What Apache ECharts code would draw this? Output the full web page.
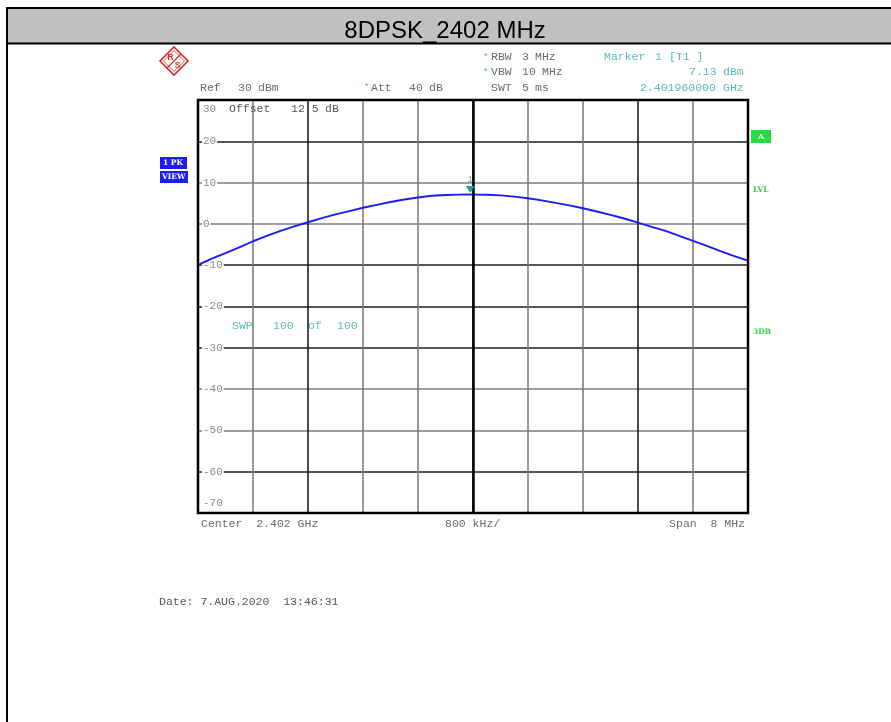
<!DOCTYPE html>
<html>
<head>
<meta charset="utf-8">
<script src="https://cdn.jsdelivr.net/npm/echarts@6/dist/echarts.min.js"></script>
<style>html,body{margin:0;padding:0;background:#fff}#c{width:891px;height:722px}</style>
</head>
<body>
<div id="c"></div>
<script>
// ---- data (frequency offset from centre, MHz; level, dBm) ----
var freqOffsets = [-4.0,-3.8,-3.6,-3.4,-3.2,-3.0,-2.8,-2.6,-2.4,-2.2,-2.0,-1.8,-1.6,-1.4,-1.2,-1.0,-0.8,-0.6,-0.4,-0.2,-0.04,0.0,0.2,0.4,0.6,0.8,1.0,1.2,1.4,1.6,1.8,2.0,2.2,2.4,2.6,2.8,3.0,3.2,3.4,3.6,3.8,4.0];
var levels = [-9.9,-8.4,-7.1,-5.7,-4.2,-2.9,-1.7,-0.6,0.4,1.4,2.3,3.1,3.9,4.6,5.3,5.9,6.4,6.8,7.0,7.1,7.13,7.1,7.05,6.9,6.6,6.2,5.7,5.1,4.5,3.8,3.0,2.2,1.3,0.3,-0.7,-1.7,-2.9,-4.1,-5.3,-6.6,-7.8,-8.9];
var markerFreq = [-0.04];
var markerLevel = [7.13];
var yTicks = [-70,-60,-50,-40,-30,-20,-10,0,10,20,30];
var xTicks = [-4,-3.2,-2.4,-1.6,-0.8,0,0.8,1.6,2.4,3.2,4];
var titleText = '8DPSK_2402 MHz';

var pts = freqOffsets.map(function(f,i){return [f, levels[i]];});
var MONO = "'Liberation Mono', 'DejaVu Sans Mono', monospace";
var FS = 11.5;
var GRAY = '#6a6a6a', TEAL = '#5cbaba', GREEN = '#2ad14a';

function t(x,y,s,color,extra){
  var st = {text:s, x:x, y:y, fill:color||GRAY, font: FS+'px '+MONO, textVerticalAlign:'middle', textAlign:'left'};
  if(extra){for(var k in extra) st[k]=extra[k];}
  return {type:'text', style:st, z:50};
}

var graphics = [
  // header
  {type:'rect', shape:{x:6,y:8,width:885,height:35}, style:{fill:'#c0c0c0'}, z:1},
  {type:'line', shape:{x1:6,y1:8,x2:891,y2:8}, style:{stroke:'#000',lineWidth:2}, z:2},
  {type:'line', shape:{x1:6,y1:43.5,x2:891,y2:43.5}, style:{stroke:'#000',lineWidth:2}, z:2},
  {type:'line', shape:{x1:7,y1:7,x2:7,y2:722}, style:{stroke:'#000',lineWidth:2}, z:2},
  {type:'text', style:{text:titleText, x:445, y:31, textAlign:'center', textVerticalAlign:'middle', font:"24px 'Liberation Sans', Arial, sans-serif", fill:'#000'}, z:3},
  // R&S logo
  {type:'group', x:174, y:61, z:5, children:[
    {type:'polygon', shape:{points:[[0,-14],[14,0],[0,14],[-14,0]]}, style:{fill:'none', stroke:'#d42a2a', lineWidth:1.6}},
    {type:'polygon', shape:{points:[[0,-10.5],[10.5,0],[0,10.5],[-10.5,0]]}, style:{fill:'none', stroke:'#d42a2a', lineWidth:0.8}},
    {type:'line', shape:{x1:-7,y1:7,x2:7,y2:-7}, style:{stroke:'#d42a2a', lineWidth:1.2}},
    {type:'text', style:{text:'R', x:-3.5, y:-3.5, textAlign:'center', textVerticalAlign:'middle', font:"bold 8.5px 'Liberation Sans', sans-serif", fill:'#d42a2a'}},
    {type:'text', style:{text:'S', x:3.5, y:4.5, textAlign:'center', textVerticalAlign:'middle', font:"bold 8.5px 'Liberation Sans', sans-serif", fill:'#d42a2a'}}
  ]},
  // top info rows
  t(483,57.5,'*',GREEN,{font:'9px '+MONO}), t(491,57,'RBW'), t(522,57,'3'), t(535,57,'MHz'),
  t(604,57,'Marker',TEAL), t(655,57,'1',TEAL), t(669,57,'[T1 ]',TEAL),
  t(483,72.5,'*',GREEN,{font:'9px '+MONO}), t(491,72,'VBW'), t(522,72,'10'), t(542,72,'MHz'),
  t(689,72,'7.13',TEAL), t(723,72,'dBm',TEAL),
  t(200,87.5,'Ref'), t(238,87.5,'30'), t(258,87.5,'dBm'),
  t(364,88,'*',GREEN,{font:'9px '+MONO}), t(371,87.5,'Att'), t(409,87.5,'40'), t(429,87.5,'dB'),
  t(491,87.5,'SWT'), t(522,87.5,'5'), t(535,87.5,'ms'),
  t(640,87.5,'2.401960000',TEAL), t(723,87.5,'GHz',TEAL),
  // inside plot
  t(229,108.5,'Offset','#555'), t(291,108.5,'12.5','#555'), t(325,108.5,'dB','#555'),
  t(232,325.5,'SWP',TEAL), t(273,325.5,'100',TEAL), t(308,325.5,'of',TEAL), t(337,325.5,'100',TEAL),
  // bottom
  t(201,524,'Center  2.402 GHz'), t(445,524,'800 kHz/'), t(745,524,'Span  8 MHz',GRAY,{textAlign:'right'}),
  t(159,602,'Date: 7.AUG.2020  13:46:31','#555'),
  // left blue boxes
  {type:'rect', shape:{x:160,y:157,width:27,height:12}, style:{fill:'#1d1df0'}, z:5},
  {type:'text', style:{text:'1 PK', x:163, y:163, textVerticalAlign:'middle', font:"bold 7.5px 'DejaVu Serif', serif", fill:'#fff'}, z:6},
  {type:'rect', shape:{x:160,y:171,width:28,height:12}, style:{fill:'#1d1df0'}, z:5},
  {type:'text', style:{text:'VIEW', x:162, y:177, textVerticalAlign:'middle', font:"bold 7.5px 'DejaVu Serif', serif", fill:'#fff'}, z:6},
  // right green
  {type:'rect', shape:{x:751,y:130,width:20,height:13}, style:{fill:'#22dd44'}, z:5},
  {type:'text', style:{text:'A', x:761, y:136.5, textAlign:'center', textVerticalAlign:'middle', font:"bold 8px 'DejaVu Serif', serif", fill:'#fff'}, z:6},
  {type:'text', style:{text:'LVL', x:753, y:190, textVerticalAlign:'middle', font:"bold 7.5px 'DejaVu Serif', serif", fill:GREEN}, z:6},
  {type:'text', style:{text:'3DB', x:753, y:332.5, textVerticalAlign:'middle', font:"bold 7.5px 'DejaVu Serif', serif", fill:GREEN}, z:6}
];

var BLK = '#1e1e1e', GRY = '#7e7e7e';
var chart = echarts.init(document.getElementById('c'), null, {renderer:'canvas'});
chart.setOption({
  animation:false,
  backgroundColor:'#fff',
  grid:{z:10, left:198, top:100, width:550, height:413, show:true, borderColor:'#000', borderWidth:2.5, backgroundColor:'transparent'},
  xAxis:{z:0, type:'value', min:xTicks[0], max:xTicks[xTicks.length-1], interval:0.8,
    axisLine:{show:false}, axisTick:{show:false}, axisLabel:{show:false},
    splitLine:{show:true, lineStyle:{width:1.6, color:[BLK,GRY,BLK,GRY,GRY,BLK,GRY,GRY,BLK,GRY,BLK]}}},
  yAxis:{z:0, type:'value', min:yTicks[0], max:yTicks[yTicks.length-1], interval:10,
    axisLine:{show:false}, axisTick:{show:false},
    axisLabel:{inside:true, margin:4, color:'#8a8a8a', fontFamily:MONO, fontSize:11,
      backgroundColor:'#fff', padding:[4,1,4,1],
      verticalAlignMinLabel:'bottom', verticalAlignMaxLabel:'top'},
    splitLine:{show:true, lineStyle:{width:1.6, color:[BLK,BLK,GRY,GRY,BLK,BLK,BLK,GRY,GRY,BLK,BLK]}}},
  series:[{
    type:'line', data:pts, showSymbol:false, smooth:false,
    lineStyle:{color:'#1c1cf2', width:1.9},
    markLine:{silent:true, symbol:'none', label:{show:false}, lineStyle:{color:'#000', width:2.5, type:'solid'},
      data:[{xAxis:0}]},
    markPoint:{symbol:'triangle', symbolRotate:180, symbolSize:[9,7], symbolOffset:[0,-5],
      itemStyle:{color:'#1f9e9e'},
      label:{show:true, position:'top', distance:2, formatter:'1', color:TEAL, fontSize:9, fontFamily:MONO},
      data:[{coord:[markerFreq[0], markerLevel[0]]}]}
  }],
  graphic:graphics
});
</script>
</body>
</html>
